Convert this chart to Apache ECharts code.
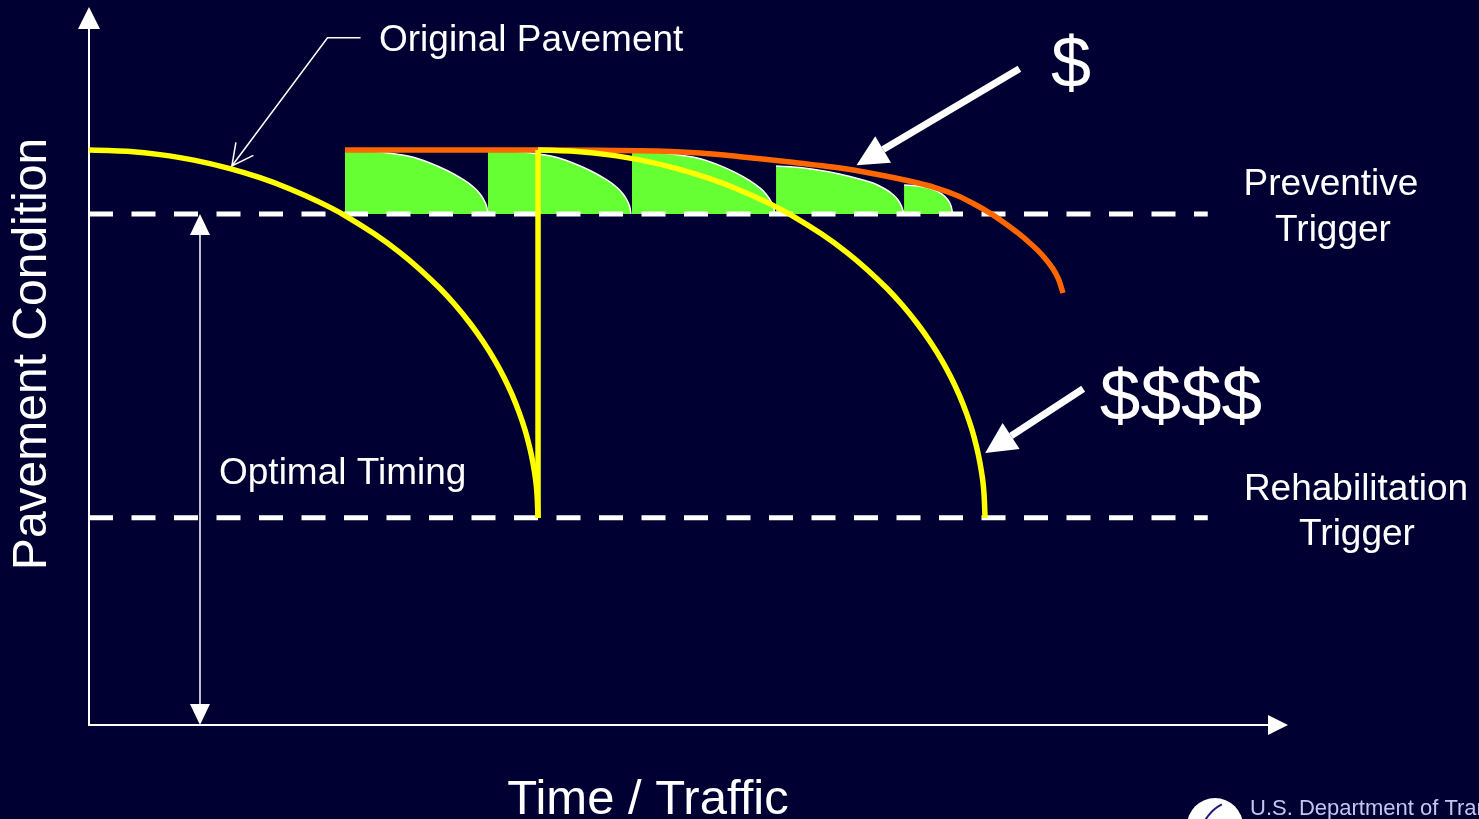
<!DOCTYPE html>
<html>
<head>
<meta charset="utf-8">
<script src="https://cdn.jsdelivr.net/npm/echarts@6/dist/echarts.min.js"></script>
<style>
html,body{margin:0;padding:0;background:#000033;}
#chart{width:1479px;height:819px;}
</style>
</head>
<body>
<div id="chart"></div>
<script>
// ---- Data (conceptual units: time 0..100.7, condition 0..100.3) ----
const preventiveTrigger = 72.5;
const rehabTrigger = 29.4;
const triggerLineEnd = 94.75;

const originalPavement = [[0,81.57],[3.47,81.36],[6.01,80.92],[8.98,80.10],[11.94,78.93],[14.48,77.64],[17.02,76.05],[19.56,74.14],[21.68,72.28],[24.22,69.61],[26.34,67.02],[28.03,64.63],[29.73,61.92],[31.00,59.61],[32.27,56.99],[33.37,54.40],[34.39,51.67],[35.15,49.30],[35.83,46.87],[36.42,44.39],[36.93,41.85],[37.35,39.17],[37.60,37.17],[37.82,34.87],[37.94,32.84],[38.03,29.37]];
const rehabJump = [[38.03,29.37],[38.03,81.57]];
const rehabilitatedPavement = [[38.03,81.57],[41.33,81.36],[43.87,80.92],[46.84,80.10],[49.80,78.93],[52.34,77.64],[54.88,76.05],[57.42,74.14],[59.54,72.28],[62.08,69.61],[64.20,67.02],[65.89,64.63],[67.59,61.92],[68.86,59.61],[70.13,56.99],[71.23,54.40],[72.25,51.67],[73.01,49.30],[73.69,46.87],[74.28,44.39],[74.79,41.85],[75.21,39.17],[75.46,37.17],[75.68,34.87],[75.80,32.84],[75.89,29.37]];
const preservedPavement = [[21.68,81.57],[38.20,81.57],[46.67,81.47],[51.75,81.15],[55.14,80.62],[59.37,79.87],[63.61,79.02],[66.57,78.17],[69.28,77.24],[71.65,76.25],[73.52,75.12],[75.04,73.84],[76.31,72.63],[77.15,71.69],[77.98,70.69],[78.78,69.66],[79.56,68.56],[80.31,67.40],[81.00,66.15],[81.61,64.79],[82.10,63.30],[82.42,61.68],[82.49,61.28]];

const treatment1 = [[21.68,81.57],[23.80,81.43],[25.24,81.17],[27.19,80.65],[28.88,79.73],[30.41,78.59],[31.68,77.39],[32.61,76.25],[33.12,75.33],[33.45,74.48],[33.67,73.63],[33.79,72.50]];
const treatment2 = [[33.79,81.57],[35.91,81.43],[37.35,81.17],[39.30,80.65],[40.99,79.73],[42.52,78.59],[43.79,77.39],[44.72,76.25],[45.23,75.33],[45.56,74.48],[45.78,73.63],[45.90,72.50]];
const treatment3 = [[45.99,81.37],[48.11,81.23],[49.55,80.97],[51.50,80.45],[53.19,79.53],[54.72,78.39],[55.99,77.19],[56.92,76.05],[57.43,75.13],[57.76,74.28],[57.98,73.43],[58.10,72.50]];
const treatment4 = [[58.19,79.32],[60.21,79.09],[62.51,78.52],[64.45,77.81],[66.40,76.89],[67.42,76.04],[68.09,75.26],[68.52,74.48],[68.81,73.63],[69.03,72.50]];
const treatment5 = [[69.03,76.61],[70.21,76.47],[71.40,76.04],[72.25,75.33],[72.75,74.48],[73.01,73.63],[73.14,72.50]];
const treatments = [treatment1, treatment2, treatment3, treatment4, treatment5];

// annotation arrows: [fromX, fromY, tipX, tipY]
const costArrows = [[78.8,93.1,65.0,79.4],[84.2,47.7,75.9,38.6]];
const timingArrow = [[9.4,0,9.4,preventiveTrigger]];
const leaderPoints = [[23.0,97.5],[20.2,97.5],[12.1,79.3]];

// ---- Rendering ----
const FONT = '"Liberation Sans", Arial, Helvetica, sans-serif';
const chart = echarts.init(document.getElementById('chart'));

function head(tip, from, len, width) {
  const ang = Math.atan2(tip[1] - from[1], tip[0] - from[0]);
  const c = Math.cos(ang), s = Math.sin(ang);
  const bx = tip[0] - len * c, by = tip[1] - len * s;
  return {
    base: [bx, by],
    points: [tip, [bx + width / 2 * s, by - width / 2 * c], [bx - width / 2 * s, by + width / 2 * c]]
  };
}

function label(text, x, y, size, align, rotation) {
  return {
    type: 'text', x: x, y: y, rotation: rotation || 0, z: 100,
    style: {
      text: text, fill: '#ffffff', font: size + 'px ' + FONT,
      textAlign: align || 'left', textVerticalAlign: 'middle',
      align: align || 'left', verticalAlign: 'middle'
    }
  };
}

const series = [];
treatments.forEach(function (seg) {
  series.push({
    type: 'line', data: seg, smooth: 0.3, symbol: 'none', z: 1,
    lineStyle: { color: '#ffffff', width: 1.5 },
    areaStyle: { color: '#66FF33', opacity: 1, origin: preventiveTrigger }
  });
});
[preventiveTrigger, rehabTrigger].forEach(function (lvl) {
  series.push({
    type: 'line', data: [[0, lvl], [triggerLineEnd, lvl]], symbol: 'none', z: 2,
    lineStyle: { color: '#ffffff', width: 5, type: [24, 18.5] }
  });
});
series.push({
  type: 'line', data: preservedPavement, smooth: 0.3, symbol: 'none', z: 3,
  lineStyle: { color: '#FF6600', width: 5.5 }
});
series.push({
  type: 'line', data: originalPavement, smooth: 0.3, symbol: 'none', z: 4,
  lineStyle: { color: '#FFFF00', width: 5.5 }
});
series.push({
  type: 'line', data: rehabJump, symbol: 'none', z: 4,
  lineStyle: { color: '#FFFF00', width: 5.5 }
});
series.push({
  type: 'line', data: rehabilitatedPavement, smooth: 0.3, symbol: 'none', z: 4,
  lineStyle: { color: '#FFFF00', width: 5.5 }
});
series.push({
  type: 'custom', coordinateSystem: 'cartesian2d', z: 6,
  data: costArrows, encode: { x: [0, 2], y: [1, 3] },
  renderItem: function (params, api) {
    const p1 = api.coord([api.value(0), api.value(1)]);
    const p2 = api.coord([api.value(2), api.value(3)]);
    const h = head(p2, p1, 31, 31);
    return {
      type: 'group', children: [
        { type: 'line', shape: { x1: p1[0], y1: p1[1], x2: h.base[0], y2: h.base[1] }, style: { stroke: '#fff', lineWidth: 7 } },
        { type: 'polygon', shape: { points: h.points }, style: { fill: '#fff' } }
      ]
    };
  }
});
series.push({
  type: 'custom', coordinateSystem: 'cartesian2d', z: 6,
  data: timingArrow, encode: { x: [0, 2], y: [1, 3] },
  renderItem: function (params, api) {
    const p1 = api.coord([api.value(0), api.value(1)]);
    const p2 = api.coord([api.value(2), api.value(3)]);
    const h1 = head(p2, p1, 21, 20);
    const h2 = head(p1, p2, 21, 20);
    return {
      type: 'group', children: [
        { type: 'line', shape: { x1: h2.base[0], y1: h2.base[1], x2: h1.base[0], y2: h1.base[1] }, style: { stroke: '#fff', lineWidth: 1.5 } },
        { type: 'polygon', shape: { points: h1.points }, style: { fill: '#fff' } },
        { type: 'polygon', shape: { points: h2.points }, style: { fill: '#fff' } }
      ]
    };
  }
});
series.push({
  type: 'custom', coordinateSystem: 'cartesian2d', z: 6,
  data: [leaderPoints.flat()], encode: { x: [0, 2, 4], y: [1, 3, 5] },
  renderItem: function (params, api) {
    const pts = [0, 1, 2].map(function (i) { return api.coord([api.value(2 * i), api.value(2 * i + 1)]); });
    const tip = pts[2], from = pts[1];
    const ang = Math.atan2(from[1] - tip[1], from[0] - tip[0]);
    const L = 24, a = 27 * Math.PI / 180;
    const w1 = [tip[0] + L * Math.cos(ang - a), tip[1] + L * Math.sin(ang - a)];
    const w2 = [tip[0] + L * Math.cos(ang + a), tip[1] + L * Math.sin(ang + a)];
    return {
      type: 'group', children: [
        { type: 'polyline', shape: { points: pts }, style: { stroke: '#fff', lineWidth: 1.5, fill: null } },
        { type: 'polyline', shape: { points: [w1, tip, w2] }, style: { stroke: '#fff', lineWidth: 1.5, fill: null } }
      ]
    };
  }
});

chart.setOption({
  backgroundColor: '#000033',
  animation: false,
  grid: { left: 89, top: 18, width: 1189, height: 707 },
  xAxis: {
    type: 'value', min: 0, max: 100.7,
    axisLine: { show: true, lineStyle: { color: '#ffffff', width: 2 }, symbol: ['none', 'triangle'], symbolSize: [20, 20] },
    axisTick: { show: false }, axisLabel: { show: false }, splitLine: { show: false }
  },
  yAxis: {
    type: 'value', min: 0, max: 100.3,
    axisLine: { show: true, lineStyle: { color: '#ffffff', width: 2 }, symbol: ['none', 'triangle'], symbolSize: [22, 22] },
    axisTick: { show: false }, axisLabel: { show: false }, splitLine: { show: false }
  },
  series: series,
  graphic: [
    label('Original Pavement', 379, 40.5, 37, 'left'),
    label('$', 1071, 67, 72, 'center'),
    label('Preventive', 1331, 185, 37, 'center'),
    label('Trigger', 1333, 231, 37, 'center'),
    label('$$$$', 1181, 400, 73, 'center'),
    label('Rehabilitation', 1356, 490, 37, 'center'),
    label('Trigger', 1357, 535, 37, 'center'),
    label('Optimal Timing', 219, 474, 37, 'left'),
    label('Pavement Condition', 33, 354, 48, 'center', Math.PI / 2),
    label('Time / Traffic', 648, 800, 49, 'center'),
    { type: 'circle', z: 100, shape: { cx: 1215, cy: 826, r: 28 }, style: { fill: '#ffffff' } },
    { type: 'arc', z: 101, shape: { cx: 1240, cy: 840, r: 40, startAngle: Math.PI * 1.05, endAngle: Math.PI * 1.35 }, style: { stroke: '#1a1a7a', lineWidth: 2, fill: null } },
    { type: 'text', x: 1250, y: 809, z: 100, style: { text: 'U.S. Department of Transportation', fill: '#c4c6f0', font: '22px ' + FONT, textAlign: 'left', textVerticalAlign: 'middle', align: 'left', verticalAlign: 'middle' } }
  ]
});
</script>
</body>
</html>
